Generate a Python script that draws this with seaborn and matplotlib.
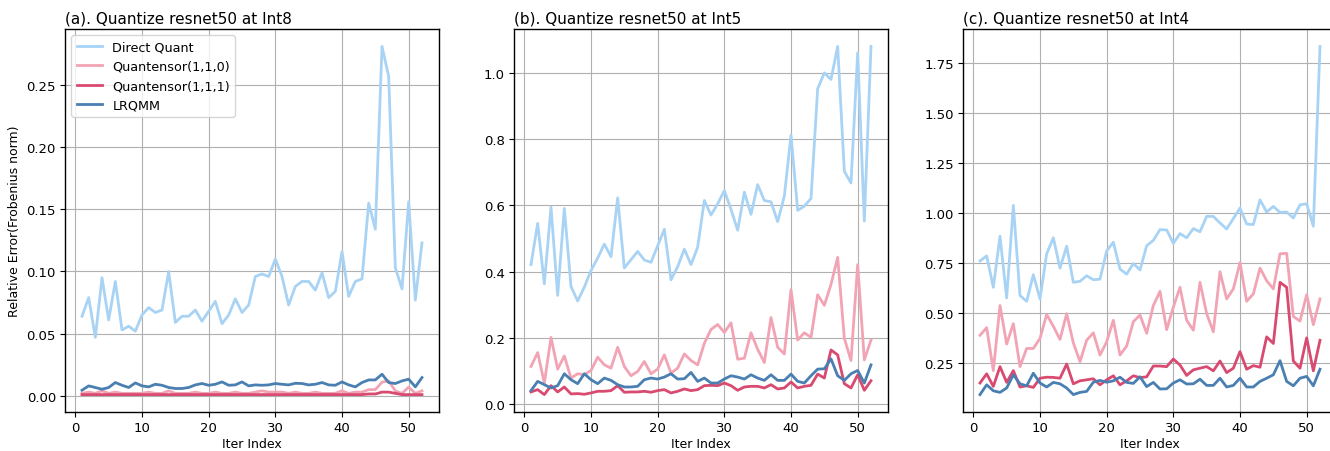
import numpy as np
import matplotlib
matplotlib.use("Agg")
import matplotlib.pyplot as plt
import seaborn as sns

iters = list(range(1, 53))

labels = ["Direct Quant", "Quantensor(1,1,0)", "Quantensor(1,1,1)", "LRQMM"]
colors = ["#a8d3f5", "#f2a3b4", "#d84a70", "#4a7fb2"]

titles = ["(a). Quantize resnet50 at Int8",
          "(b). Quantize resnet50 at Int5",
          "(c). Quantize resnet50 at Int4"]

# Panel (a) Int8
a_direct = [0.064, 0.079, 0.047, 0.095, 0.061, 0.092, 0.053, 0.056, 0.052, 0.065,
            0.071, 0.067, 0.069, 0.100, 0.059, 0.064, 0.064, 0.069, 0.060, 0.068,
            0.076, 0.058, 0.065, 0.078, 0.067, 0.073, 0.096, 0.098, 0.096, 0.110,
            0.096, 0.073, 0.088, 0.092, 0.092, 0.085, 0.099, 0.079, 0.084, 0.116,
            0.080, 0.092, 0.094, 0.155, 0.134, 0.281, 0.257, 0.103, 0.086, 0.156,
            0.077, 0.123]
a_q110 = [0.002, 0.003, 0.002, 0.004, 0.002, 0.003, 0.002, 0.002, 0.002, 0.002,
          0.003, 0.002, 0.002, 0.004, 0.002, 0.002, 0.002, 0.003, 0.002, 0.002,
          0.003, 0.002, 0.002, 0.003, 0.002, 0.002, 0.003, 0.004, 0.003, 0.003,
          0.003, 0.002, 0.003, 0.002, 0.002, 0.003, 0.002, 0.002, 0.002, 0.004,
          0.002, 0.003, 0.003, 0.005, 0.005, 0.011, 0.012, 0.004, 0.002, 0.007,
          0.002, 0.004]
a_q111 = [0.001, 0.001, 0.001, 0.001, 0.001, 0.001, 0.001, 0.001, 0.001, 0.001,
          0.001, 0.001, 0.001, 0.001, 0.001, 0.001, 0.001, 0.001, 0.001, 0.001,
          0.001, 0.001, 0.001, 0.001, 0.001, 0.001, 0.001, 0.001, 0.001, 0.001,
          0.001, 0.001, 0.001, 0.001, 0.001, 0.001, 0.001, 0.001, 0.001, 0.001,
          0.001, 0.001, 0.001, 0.0015, 0.0015, 0.003, 0.003, 0.002, 0.001, 0.001,
          0.001, 0.001]
a_lrqmm = [0.0045, 0.0080, 0.0067, 0.0053, 0.0067, 0.0107, 0.0085, 0.0067, 0.0104, 0.0080,
           0.0072, 0.0093, 0.0085, 0.0067, 0.0059, 0.0059, 0.0067, 0.0088, 0.0099, 0.0085,
           0.0093, 0.0112, 0.0085, 0.0088, 0.0112, 0.0080, 0.0088, 0.0085, 0.0088, 0.0099,
           0.0093, 0.0088, 0.0101, 0.0099, 0.0088, 0.0093, 0.0107, 0.0088, 0.0085, 0.0112,
           0.0088, 0.0072, 0.0107, 0.0128, 0.0128, 0.0174, 0.0107, 0.0099, 0.0120, 0.0134,
           0.0072, 0.0147]

# Panel (b) Int5
b_direct = [0.421, 0.546, 0.363, 0.595, 0.328, 0.591, 0.355, 0.311, 0.353, 0.403,
            0.441, 0.483, 0.445, 0.623, 0.411, 0.436, 0.461, 0.435, 0.428, 0.478,
            0.528, 0.375, 0.415, 0.468, 0.421, 0.474, 0.615, 0.571, 0.605, 0.645,
            0.588, 0.525, 0.640, 0.573, 0.663, 0.615, 0.611, 0.551, 0.628, 0.813,
            0.585, 0.598, 0.621, 0.953, 1.001, 0.981, 1.081, 0.703, 0.668, 1.061,
            0.553, 1.081]
b_q110 = [0.113, 0.155, 0.063, 0.201, 0.105, 0.145, 0.078, 0.091, 0.088, 0.101,
          0.141, 0.118, 0.108, 0.171, 0.113, 0.085, 0.098, 0.128, 0.091, 0.105,
          0.148, 0.093, 0.108, 0.151, 0.131, 0.118, 0.183, 0.225, 0.240, 0.216,
          0.245, 0.135, 0.138, 0.215, 0.165, 0.125, 0.261, 0.171, 0.151, 0.345,
          0.193, 0.215, 0.201, 0.330, 0.298, 0.361, 0.443, 0.198, 0.131, 0.421,
          0.133, 0.193]
b_q111 = [0.036, 0.043, 0.028, 0.055, 0.036, 0.051, 0.030, 0.031, 0.029, 0.033,
          0.038, 0.038, 0.040, 0.055, 0.035, 0.036, 0.036, 0.038, 0.035, 0.040,
          0.043, 0.033, 0.038, 0.045, 0.040, 0.043, 0.055, 0.056, 0.055, 0.063,
          0.055, 0.041, 0.051, 0.053, 0.053, 0.048, 0.058, 0.045, 0.048, 0.066,
          0.048, 0.053, 0.056, 0.090, 0.078, 0.163, 0.148, 0.061, 0.048, 0.088,
          0.041, 0.070]
b_lrqmm = [0.040, 0.068, 0.058, 0.048, 0.055, 0.091, 0.073, 0.061, 0.091, 0.073,
           0.061, 0.078, 0.071, 0.058, 0.051, 0.051, 0.053, 0.073, 0.078, 0.075,
           0.081, 0.091, 0.075, 0.076, 0.095, 0.068, 0.078, 0.063, 0.063, 0.075,
           0.085, 0.081, 0.075, 0.088, 0.078, 0.071, 0.088, 0.071, 0.071, 0.090,
           0.068, 0.063, 0.085, 0.105, 0.106, 0.136, 0.085, 0.071, 0.091, 0.101,
           0.063, 0.118]

# Panel (c) Int4
c_direct = [0.759, 0.784, 0.627, 0.883, 0.574, 1.037, 0.586, 0.557, 0.690, 0.569,
            0.795, 0.875, 0.723, 0.833, 0.652, 0.657, 0.685, 0.665, 0.668, 0.809,
            0.853, 0.718, 0.693, 0.746, 0.714, 0.835, 0.862, 0.916, 0.914, 0.847,
            0.896, 0.875, 0.921, 0.905, 0.982, 0.982, 0.949, 0.919, 0.971, 1.024,
            0.944, 0.941, 1.065, 1.004, 1.032, 1.002, 1.004, 0.974, 1.040, 1.045,
            0.933, 1.833]
c_q110 = [0.387, 0.425, 0.210, 0.536, 0.343, 0.445, 0.230, 0.321, 0.321, 0.371,
          0.491, 0.432, 0.366, 0.495, 0.349, 0.255, 0.362, 0.399, 0.288, 0.354,
          0.462, 0.288, 0.333, 0.455, 0.488, 0.397, 0.536, 0.607, 0.415, 0.528,
          0.627, 0.462, 0.412, 0.652, 0.495, 0.404, 0.705, 0.569, 0.619, 0.751,
          0.557, 0.594, 0.723, 0.660, 0.619, 0.795, 0.797, 0.481, 0.458, 0.590,
          0.440, 0.569]
c_q111 = [0.148, 0.194, 0.131, 0.230, 0.151, 0.210, 0.128, 0.134, 0.126, 0.172,
          0.177, 0.176, 0.172, 0.243, 0.144, 0.159, 0.164, 0.169, 0.139, 0.164,
          0.184, 0.139, 0.159, 0.184, 0.175, 0.179, 0.233, 0.233, 0.230, 0.268,
          0.238, 0.186, 0.214, 0.222, 0.230, 0.209, 0.258, 0.200, 0.222, 0.305,
          0.217, 0.235, 0.227, 0.379, 0.346, 0.652, 0.627, 0.258, 0.222, 0.374,
          0.209, 0.362]
c_lrqmm = [0.090, 0.139, 0.109, 0.101, 0.123, 0.189, 0.144, 0.134, 0.197, 0.148,
           0.128, 0.151, 0.144, 0.123, 0.090, 0.101, 0.106, 0.152, 0.161, 0.152,
           0.159, 0.177, 0.151, 0.146, 0.179, 0.130, 0.151, 0.118, 0.119, 0.148,
           0.164, 0.143, 0.144, 0.167, 0.136, 0.136, 0.172, 0.128, 0.136, 0.172,
           0.128, 0.128, 0.156, 0.172, 0.189, 0.260, 0.156, 0.134, 0.172, 0.181,
           0.134, 0.217]

panels = [
    [a_direct, a_q110, a_q111, a_lrqmm],
    [b_direct, b_q110, b_q111, b_lrqmm],
    [c_direct, c_q110, c_q111, c_lrqmm],
]

plt.rcParams["font.family"] = ["DejaVu Sans"]

W, H = 1330, 452
fig = plt.figure(figsize=(W / 100, H / 100), dpi=100)

lefts = [65, 514, 963]
ax_w, ax_bottom, ax_top = 374, 413, 30

for k, (series, title) in enumerate(zip(panels, titles)):
    ax = fig.add_axes([lefts[k] / W, (H - ax_bottom) / H, ax_w / W, (ax_bottom - ax_top) / H])
    for vals, lab, col in zip(series, labels, colors):
        sns.lineplot(x=iters, y=vals, ax=ax, color=col, linewidth=2,
                     label=lab if k == 0 else None, legend=False)
    ax.grid(True, color="#b0b0b0", linewidth=0.8)
    ax.set_axisbelow(True)
    ax.set_title(title, loc="left", fontsize=11, pad=5)
    ax.set_xlabel("Iter Index", fontsize=9, labelpad=2)
    ax.tick_params(labelsize=9.5, direction="out", length=3.5, pad=3, color="black")
    for s in ax.spines.values():
        s.set_color("black")
        s.set_linewidth(1.0)
    if k == 0:
        ax.set_ylabel("Relative Error(Frobenius norm)", fontsize=9)
        ax.legend(loc="upper left", fontsize=9.2, frameon=True)

fig.savefig("out.png", dpi=100)
